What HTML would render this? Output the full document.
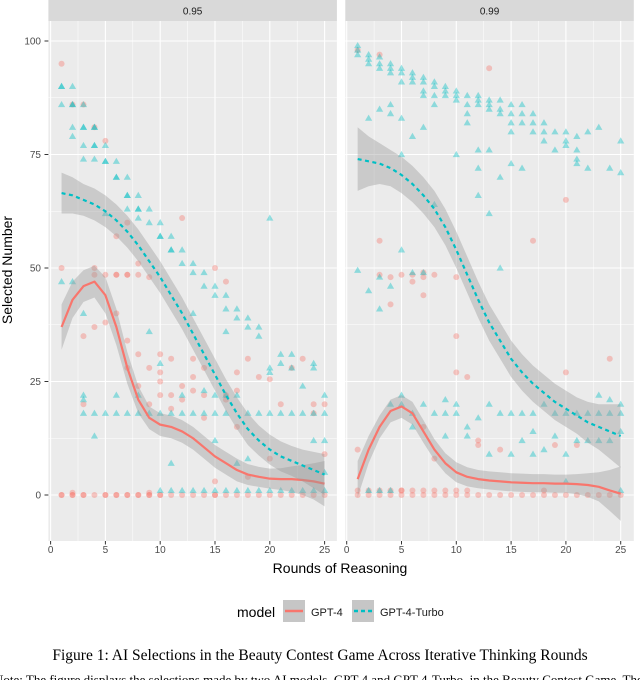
<!DOCTYPE html>
<html><head><meta charset="utf-8"><style>
html,body{margin:0;padding:0;background:#fff;width:640px;height:680px;overflow:hidden}
svg{display:block;font-family:"Liberation Sans",sans-serif}
</style></head><body>
<svg id="chart" width="640" height="680" viewBox="0 0 640 680">
<g id="panels"></g>
<text x="12" y="270" transform="rotate(-90 12 270)" text-anchor="middle" font-size="14" fill="#000">Selected Number</text>
<text x="340" y="573" text-anchor="middle" font-size="14" fill="#000">Rounds of Reasoning</text>
<g>
<text x="237" y="617" font-size="14" fill="#000">model</text>
<g>
<rect x="283" y="600" width="22" height="22" fill="#c6c6c6"/>
<line x1="285" y1="611" x2="303" y2="611" stroke="#F8766D" stroke-width="2.5"/>
<text x="311" y="616" font-size="11" fill="#1a1a1a">GPT-4</text></g>
<g>
<rect x="352" y="600" width="22" height="22" fill="#c6c6c6"/>
<line x1="354" y1="611" x2="372" y2="611" stroke="#00BFC4" stroke-width="2.5" stroke-dasharray="4,3"/>
<text x="380" y="616" font-size="11" fill="#1a1a1a">GPT-4-Turbo</text></g>
</g>
<text x="320" y="660" text-anchor="middle" font-size="15.5" font-family="Liberation Serif,serif" fill="#000">Figure 1: AI Selections in the Beauty Contest Game Across Iterative Thinking Rounds</text>
<text x="-6" y="684" font-size="13" font-family="Liberation Serif,serif" fill="#000">Note: The figure displays the selections made by two AI models, GPT-4 and GPT-4-Turbo, in the Beauty Contest Game. The</text>
</svg>
<script>
const facetLabels=["0.95","0.99"];
const rounds=[1,2,3,4,5,6,7,8,9,10,11,12,13,14,15,16,17,18,19,20,21,22,23,24,25];
const xTicks=[0,5,10,15,20,25];
const yTicks=[0,25,50,75,100];
// smooth fits
const fitG4_95=[37,43,46,47,44,37,28,21,17,15.5,15,14,12.5,10.5,8.5,7,5.5,4.5,4,3.6,3.5,3.5,3.3,3,2.5];
const seG4_95=[5,4,3.5,3.5,4,4,3.5,3,2.5,2.5,2.5,2.5,2.5,2.5,2.5,2.5,2.5,2.3,2.2,2.2,2.4,2.8,3.3,4,5];
const fitT_95=[66.5,66,65,64,62.5,60.5,58,55,51.5,48,44,40,35.5,31,26.5,22,18,14.5,12,10,8.5,7.5,6.5,5.5,4.5];
const seT_95=[4.5,4,3.5,3.5,3.5,3.5,3.5,3.5,3.5,3.5,3.5,3.5,3.5,3.5,3.5,3.5,3.5,3.5,3.3,3.3,3.3,3.3,3.5,4,4.5];
const fitG4_99=[3.5,10,15,18.5,19.5,18,14,10,7,5,4,3.5,3.2,3,2.8,2.7,2.6,2.6,2.5,2.5,2.4,2.2,1.8,1,0.3];
const seG4_99=[4,3,2.5,2.5,2.5,2.5,2.5,2.3,2.2,2.2,2.1,2,2,2,2,2,2,2,2,2,2.2,2.6,3.2,4.5,6];
const fitT_99=[74,73.5,73,72,70.5,68.5,66,63,59,54,48.5,43,38,34,30,27,24.5,22.5,20.5,19,17.5,16,15,14,13];
const seT_99=[7,5.5,4.5,4,4,4,4,4,4,4,4,4,4,4,4,4,4,4,4,4,4,4.5,5,6,7];
// scatter points [round, value]
const ptsG4_95=[[1,95],[1,50],[1,0],[1,0],[2,0],[2,0],[2,0.5],[2,86],[3,86],[3,0],[3,0],[3,20],[3,35],[4,48.5],[4,50],[4,0],[4,81],[4,37],[5,48.5],[5,0],[5,0],[5,38],[5,78],[6,48.5],[6,48.5],[6,0],[6,0],[6,40],[6,57],[7,48.5],[7,48.5],[7,0],[7,0],[7,34],[7,28],[7,60],[8,48.5],[8,0],[8,0],[8,51],[8,31],[8,24],[9,48],[9,0],[9,0],[9,28],[9,20],[9,0.5],[10,27],[10,0],[10,0],[10,25],[10,22],[10,31],[11,22],[11,19],[11,0],[11,30],[12,24],[12,21],[12,0],[12,61],[13,0],[13,23],[13,26],[13,30],[14,0],[14,22],[14,28],[14,17],[15,0],[15,0],[15,3],[15,50],[16,0],[16,21],[16,22],[16,47],[17,27],[17,0],[17,23],[17,15],[18,0],[18,4],[18,30],[19,0],[19,26],[20,25.5],[20,0],[20,8],[21,0],[21,20],[22,0],[22,28],[23,0],[23,30],[24,0],[24,20],[24,18],[25,0],[25,9],[25,20]];
const ptsT_95=[[1,90],[1,90],[1,86],[1,47],[2,90],[2,86],[2,86],[2,81],[2,79],[2,47],[3,86],[3,81],[3,81],[3,77],[3,74],[3,21],[3,22],[3,18],[3,40],[4,81],[4,81],[4,77],[4,77],[4,74],[4,18],[4,13],[5,77],[5,73.5],[5,73.5],[5,18],[5,62],[6,73.5],[6,70],[6,70],[6,18],[6,22],[7,70],[7,66],[7,66],[7,63],[7,18],[8,66],[8,63],[8,63],[8,61],[8,18],[8,22],[9,63],[9,60],[9,18],[9,36],[10,60],[10,57],[10,57],[10,18],[10,29],[10,1],[11,57],[11,54],[11,54],[11,18],[11,7],[11,1],[12,54],[12,51],[12,18],[12,22],[12,1],[13,51],[13,49],[13,18],[13,40],[13,1],[14,49],[14,46],[14,18],[14,23],[14,1],[15,46],[15,44],[15,18],[15,22],[15,12],[15,1],[16,44],[16,41],[16,18],[16,36],[16,1],[16,22],[17,41],[17,39],[17,22],[17,7],[17,1],[18,39],[18,37],[18,18],[18,1],[18,8],[19,37],[19,35],[19,18],[19,1],[20,28],[20,27],[20,18],[20,1],[20,61],[21,31],[21,29],[21,18],[21,1],[22,31],[22,28],[22,18],[22,1],[23,24],[23,18],[23,1],[24,28],[24,29],[24,18],[24,12],[24,1],[25,22],[25,18],[25,12],[25,1],[25,5]];
const ptsG4_99=[[1,98],[1,10],[1,1],[1,0],[2,1],[2,0],[3,97],[3,48.5],[3,1],[3,0],[3,56],[4,48],[4,1],[4,0],[4,42],[5,48.5],[5,1],[5,0],[5,1],[6,48.5],[6,47],[6,1],[6,0],[7,49],[7,48],[7,1],[7,0],[7,44],[7,15],[8,48.5],[8,1],[8,0],[8,8],[9,1],[9,0],[10,48],[10,1],[10,0],[10,35],[10,27],[11,1],[11,0],[11,26],[12,0],[12,12],[12,11],[13,0],[13,94],[14,0],[14,10],[15,0],[16,0],[17,56],[17,0],[18,1],[18,0],[19,0],[19,11],[20,0],[20,65],[20,27],[21,0],[21,11],[22,0],[23,0],[24,30],[24,0],[25,0]];
const ptsT_99=[[1,99],[1,98],[1,97],[1,49.5],[2,97],[2,96],[2,95],[2,83],[2,45],[2,1],[3,96.5],[3,95],[3,94],[3,85],[3,41],[3,48],[3,1],[4,95],[4,94],[4,93],[4,86],[4,84],[4,46],[4,20],[4,1],[5,94],[5,93],[5,91],[5,83],[5,75],[5,54],[5,22],[5,20],[6,93],[6,92],[6,91],[6,79],[6,49],[6,18],[6,15],[7,92],[7,91],[7,89],[7,88],[7,81],[7,49],[7,20],[8,91],[8,90],[8,88],[8,86],[8,64],[8,18],[9,90],[9,89],[9,88],[9,18],[9,21],[9,13],[10,89],[10,88],[10,87],[10,75],[10,20],[10,18],[11,88],[11,86],[11,84],[11,82],[11,15],[11,13],[12,88],[12,87],[12,86],[12,76],[12,72],[12,66],[12,17],[13,87],[13,86],[13,85],[13,76],[13,62],[13,20],[13,9],[14,87],[14,85],[14,84],[14,70],[14,50],[14,18],[15,86],[15,84],[15,82],[15,80],[15,73],[15,18],[15,9],[16,86],[16,84],[16,82],[16,72],[16,18],[16,12],[17,84],[17,82],[17,80],[17,18],[17,14],[17,9],[18,82],[18,80],[18,78],[18,20],[18,10],[19,80],[19,76],[19,18],[19,13],[20,80],[20,78],[20,77],[20,18],[20,9],[20,3],[21,79],[21,76],[21,74],[21,73],[21,18],[21,12],[22,80],[22,72],[22,18],[22,12],[23,81],[23,18],[23,22],[23,12],[24,72],[24,18],[24,21],[24,12],[25,78],[25,71],[25,18],[25,20],[25,14],[25,1]];

const NS="http://www.w3.org/2000/svg";
const panelsG=document.getElementById('panels');
const panelLeft=[48.4,345.3], panelW=288.5, panelTop=21, panelBot=541;
const x0s=[50.6,346.7], xUnit=10.96;
function yScale(v){return 495-v*4.54;}
function xScale(p,v){return x0s[p]+v*xUnit;}
function mk(tag,attrs,parent){const e=document.createElementNS(NS,tag);for(const k in attrs)e.setAttribute(k,attrs[k]);parent.appendChild(e);return e;}

const fits=[[fitG4_95,seG4_95,fitT_95,seT_95],[fitG4_99,seG4_99,fitT_99,seT_99]];
const pts=[[ptsG4_95,ptsT_95],[ptsG4_99,ptsT_99]];

for(let p=0;p<2;p++){
  const g=mk('g',{},panelsG);
  
  
  const L=panelLeft[p];
  const st=mk('rect',{x:L,y:0,width:panelW,height:21,fill:'#D9D9D9'},g);
  
  
  const sl=mk('text',{x:L+panelW/2,y:14.5,'text-anchor':'middle','font-size':'10','fill':'#1A1A1A'},g);
  sl.textContent=facetLabels[p];
  
  
  const bg=mk('rect',{x:L,y:panelTop,width:panelW,height:panelBot-panelTop,fill:'#EBEBEB'},g);
  
  
  for(let i=0;i<yTicks.length-1;i++){const yy=yScale((yTicks[i]+yTicks[i+1])/2);mk('line',{x1:L,x2:L+panelW,y1:yy,y2:yy,stroke:'#fff','stroke-width':0.5},g);}
  mk('line',{x1:L,x2:L+panelW,y1:yScale(-12.5),y2:yScale(-12.5),stroke:'#fff','stroke-width':0.5},g);
  for(let i=0;i<xTicks.length-1;i++){const xx=xScale(p,(xTicks[i]+xTicks[i+1])/2);mk('line',{x1:xx,x2:xx,y1:panelTop,y2:panelBot,stroke:'#fff','stroke-width':0.5},g);}
  yTicks.forEach(t=>{const yy=yScale(t);mk('line',{x1:L,x2:L+panelW,y1:yy,y2:yy,stroke:'#fff','stroke-width':1.1},g);
    if(p===0){const tl=mk('text',{x:41,y:yy+3.5,'text-anchor':'end','font-size':'10',fill:'#4D4D4D'},panelsG);tl.textContent=t;
      
      
      mk('line',{x1:44.5,x2:48.4,y1:yy,y2:yy,stroke:'#333','stroke-width':1},panelsG);}});
  xTicks.forEach(t=>{const xx=xScale(p,t);mk('line',{x1:xx,x2:xx,y1:panelTop,y2:panelBot,stroke:'#fff','stroke-width':1.1},g);
    mk('line',{x1:xx,x2:xx,y1:panelBot,y2:panelBot+3.5,stroke:'#333','stroke-width':1},g);
    const tl=mk('text',{x:xx,y:553,'text-anchor':'middle','font-size':'10',fill:'#4D4D4D'},g);tl.textContent=t;
    
    });
  pts[p][0].forEach(d=>{const c=mk('circle',{cx:xScale(p,d[0]),cy:yScale(d[1]),r:3,fill:'#F8766D','fill-opacity':0.38},g);
    
    });
  pts[p][1].forEach(d=>{const cx=xScale(p,d[0]),cy=yScale(d[1]);
    const t=mk('polygon',{points:(cx-3.6)+','+(cy+2.6)+' '+(cx+3.6)+','+(cy+2.6)+' '+cx+','+(cy-3.6),fill:'#00BFC4','fill-opacity':0.4},g);
    
    });
  for(let m=0;m<2;m++){
    const fit=fits[p][m*2], se=fits[p][m*2+1];
    let up=[],lo=[],ln=[];
    rounds.forEach((r,i)=>{up.push(xScale(p,r)+','+yScale(fit[i]+se[i]));lo.unshift(xScale(p,r)+','+yScale(fit[i]-se[i]));ln.push(xScale(p,r)+','+yScale(fit[i]));});
    const rb=mk('polygon',{points:up.concat(lo).join(' '),fill:'#999','fill-opacity':0.4},g);
    
    
    const l=mk('polyline',{points:ln.join(' '),fill:'none',stroke:m===0?'#F8766D':'#00BFC4','stroke-width':2.2,'stroke-linejoin':'round'},g);
    if(m===1)l.setAttribute('stroke-dasharray','4,3.5');
    
    
  }
}
</script>
</body></html>
